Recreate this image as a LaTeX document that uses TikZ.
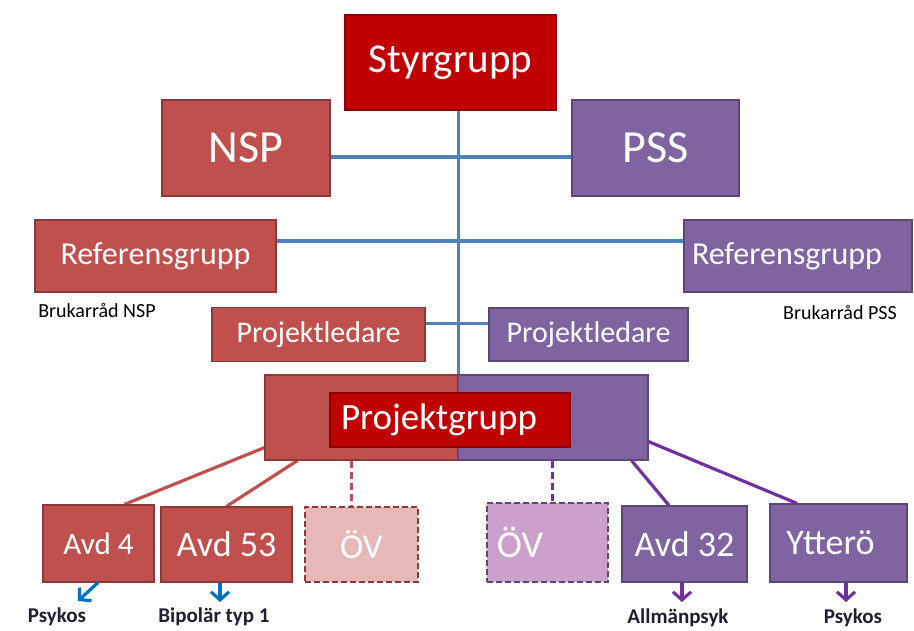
\documentclass[tikz,border=0pt]{standalone}
\usepackage{fontspec}
\setmainfont{Carlito}
\usetikzlibrary{arrows.meta,backgrounds}
\definecolor{nspred}{HTML}{C0504D}
\definecolor{nspredd}{HTML}{8C3A38}
\definecolor{pssvio}{HTML}{8064A2}
\definecolor{pssviod}{HTML}{5C4776}
\definecolor{darkred}{HTML}{C00000}
\definecolor{darkredd}{HTML}{8B0000}
\definecolor{linkblue}{HTML}{4F81BD}
\definecolor{arrblue}{HTML}{0070C0}
\definecolor{arrpurp}{HTML}{7030A0}
\definecolor{ovpink}{HTML}{E6B9B8}
\definecolor{ovlila}{HTML}{CC9FCC}
\definecolor{lbltext}{HTML}{1F1F2F}
\newcommand{\myfs}[1]{\fontsize{#1}{#1}\selectfont}
\begin{document}
\begin{tikzpicture}[x=1pt,y=-1pt,
  box/.style={rectangle, inner sep=0pt, text=white, line width=1.2pt},
  redbox/.style={box, fill=nspred, draw=nspredd},
  purpbox/.style={box, fill=pssvio, draw=pssviod},
  topbox/.style={box, fill=darkred, draw=darkredd},
  ovlbox/.style={box, fill=ovpink, draw=nspredd, line width=1.6pt, dashed, dash pattern=on 6pt off 3pt},
  ovrbox/.style={box, fill=ovlila, draw=pssviod, line width=1.6pt, dashed, dash pattern=on 6pt off 3pt},
  bluelink/.style={draw=linkblue, line width=3.2pt},
  redlink/.style={draw=nspred, line width=3.2pt},
  purplink/.style={draw=arrpurp, line width=3.2pt},
  barrow/.style={draw=arrblue, line width=3.2pt, -{Straight Barb[length=8pt,width=18pt,line width=3.2pt]}},
  parrow/.style={draw=arrpurp, line width=3.2pt, -{Straight Barb[length=8pt,width=18pt,line width=3.2pt]}},
  smalllbl/.style={inner sep=0pt, text=black, font=\myfs{20}},
  botlbl/.style={inner sep=0pt, text=lbltext, font=\bfseries\myfs{21}}
]
\useasboundingbox (0,0) rectangle (914,630);

% top level
\node[topbox, minimum width=211pt, minimum height=95pt, font=\myfs{41}] (styr) at (450.5,62.5) {Styrgrupp};
\node[redbox, minimum width=168pt, minimum height=96pt, font=\myfs{46}] (nsp) at (246,148) {NSP};
\node[purpbox, minimum width=167pt, minimum height=96pt, font=\myfs{46}] (pss) at (655.5,148) {PSS};

% reference groups
\node[redbox, minimum width=241pt, minimum height=72pt, font=\myfs{32}] (refl) at (155.5,256) {Referensgrupp};
\node[purpbox, minimum width=228pt, minimum height=72pt, font=\myfs{32}] (refr) at (798,256) {Referensgrupp\hspace*{22pt}};
\node[smalllbl] (bnsp) at (97,310) {Brukarråd NSP};
\node[smalllbl] (bpss) at (840,312) {Brukarråd PSS};

% project leaders
\node[redbox, minimum width=213pt, minimum height=54pt, font=\myfs{30}] (pll) at (318.5,334.5) {Projektledare};
\node[purpbox, minimum width=199pt, minimum height=53pt, font=\myfs{30}] (plr) at (588.5,334.5) {Projektledare};

% project group
\node[redbox, minimum width=193pt, minimum height=85pt] (pgl) at (361.5,417.5) {};
\node[purpbox, minimum width=190pt, minimum height=85pt] (pgr) at (553,417.5) {};
\node[topbox, minimum width=240pt, minimum height=54pt, font=\myfs{37}] (pg) at (450,420) {Projektgrupp\hspace*{22pt}};
\coordinate (pgtop) at (pgl.north east);

% units
\node[redbox, minimum width=111pt, minimum height=77pt, font=\myfs{31}] (avd4) at (98.5,543.5) {Avd 4};
\node[redbox, minimum width=131pt, minimum height=75pt, font=\myfs{36}] (avd53) at (226.5,544.5) {Avd 53};
\node[ovlbox, minimum width=113pt, minimum height=75pt, font=\myfs{35}] (ovl) at (361.5,544.5) {ÖV};
\node[ovrbox, minimum width=121pt, minimum height=79pt, font=\myfs{38}] (ovr) at (547.5,542.5) {ÖV\hspace*{55pt}};
\node[purpbox, minimum width=125pt, minimum height=76pt, font=\myfs{36}] (avd32) at (684.5,544) {Avd 32};
\node[purpbox, minimum width=137pt, minimum height=78pt, font=\myfs{36}] (ytt) at (838.5,543) {Ytterö\hspace*{16pt}};

% bottom labels
\node[botlbl] (l1) at (57,617) {Psykos};
\node[botlbl] (l2) at (214,617) {Bipolär typ 1};
\node[botlbl] (l3) at (678,618) {Allmänpsyk};
\node[botlbl] (l4) at (853,618) {Psykos};

\coordinate (e1) at (78,601);
\coordinate (e2) at (220,602);
\coordinate (e3) at (682,602);
\coordinate (e4) at (846,602);

\begin{scope}[on background layer]
  \fill[white] (0,0) rectangle (914,630);
  \draw[bluelink] (styr.south -| pgtop) -- (pgtop);
  \draw[bluelink] ([yshift=-9pt]nsp.east) -- ([yshift=-9pt]pss.west);
  \draw[bluelink] ([yshift=15pt]refl.east) -- ([yshift=15pt]refr.west);
  \draw[bluelink] ([yshift=11pt]pll.east) -- ([yshift=11pt]plr.west);
  \draw[redlink] ([yshift=13pt]pgl.south west) -- ([xshift=26pt]avd4.north);
  \draw[redlink] ([xshift=33pt]pgl.south west) -- (avd53.north);
  \draw[redlink, dashed, dash pattern=on 7pt off 4pt] ([xshift=87pt]pgl.south west) -- ([xshift=87pt]pgl.south west |- ovl.north);
  \draw[purplink, dashed, dash pattern=on 7pt off 4pt] ([xshift=95pt]pgr.south west) -- ([xshift=95pt]pgr.south west |- ovr.north);
  \draw[purplink] ([xshift=-17pt]pgr.south east) -- ([xshift=-15.5pt]avd32.north);
  \draw[purplink] ([yshift=19pt]pgr.south east) -- ([xshift=-41.5pt]ytt.north);
\end{scope}

\draw[barrow] ([xshift=-0.5pt]avd4.south) -- (e1);
\draw[barrow] ([xshift=-6.5pt]avd53.south) -- (e2);
\draw[parrow] ([xshift=-2.5pt]avd32.south) -- (e3);
\draw[parrow] ([xshift=7.5pt]ytt.south) -- (e4);
\end{tikzpicture}
\end{document}
